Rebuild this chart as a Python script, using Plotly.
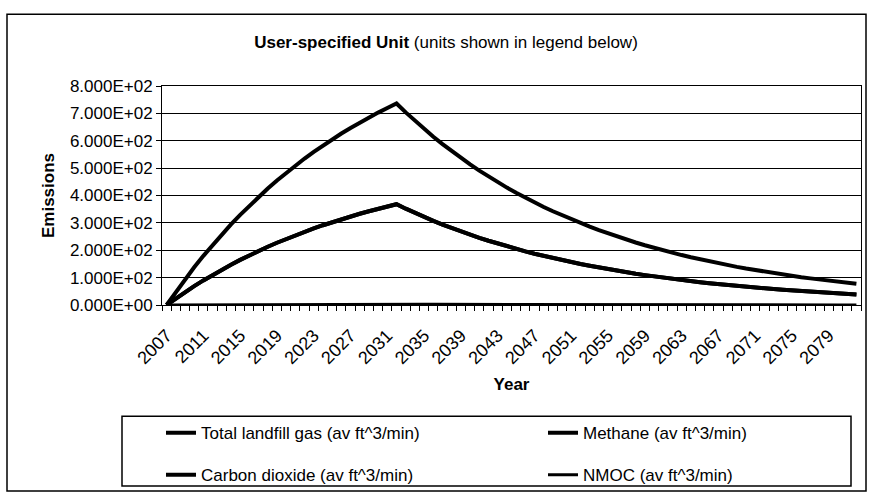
import plotly.graph_objects as go

years = list(range(2007, 2083))

total_landfill_gas = [
    0, 48.0, 93.8, 137.6, 179.6, 219.6, 257.9, 294.5, 329.5, 363.0,
    395.0, 425.6, 454.8, 482.7, 509.5, 535.0, 559.4, 582.8, 605.1, 626.4,
    646.8, 666.3, 685.0, 702.8, 719.8, 736.1,
    703.6, 672.6, 643.1, 614.8, 587.7, 561.8, 537.1, 513.5, 490.9, 469.3,
    448.6, 428.9, 410.0, 392.0, 374.7, 358.2, 342.5, 327.4, 313.0, 299.2,
    286.1, 273.5, 261.4, 249.9, 238.9, 228.4, 218.4, 208.8, 199.6, 190.8,
    182.4, 174.4, 166.7, 159.4, 152.4, 145.7, 139.2, 133.1, 127.3, 121.7,
    116.3, 111.2, 106.3, 101.6, 97.2, 92.9, 88.8, 84.9, 81.1, 77.6,
]

methane = [
    0, 24.0, 46.9, 68.8, 89.8, 109.8, 129.0, 147.3, 164.8, 181.5,
    197.5, 212.8, 227.4, 241.4, 254.8, 267.5, 279.7, 291.4, 302.6, 313.2,
    323.4, 333.2, 342.5, 351.4, 359.9, 368.1,
    351.8, 336.3, 321.6, 307.4, 293.9, 280.9, 268.6, 256.8, 245.5, 234.7,
    224.3, 214.5, 205.0, 196.0, 187.4, 179.1, 171.3, 163.7, 156.5, 149.6,
    143.1, 136.8, 130.7, 125.0, 119.5, 114.2, 109.2, 104.4, 99.8, 95.4,
    91.2, 87.2, 83.4, 79.7, 76.2, 72.9, 69.6, 66.6, 63.7, 60.9,
    58.2, 55.6, 53.2, 50.8, 48.6, 46.5, 44.4, 42.5, 40.6, 38.8,
]

carbon_dioxide = [
    0, 24.0, 46.9, 68.8, 89.8, 109.8, 129.0, 147.3, 164.8, 181.5,
    197.5, 212.8, 227.4, 241.4, 254.8, 267.5, 279.7, 291.4, 302.6, 313.2,
    323.4, 333.2, 342.5, 351.4, 359.9, 368.1,
    351.8, 336.3, 321.6, 307.4, 293.9, 280.9, 268.6, 256.8, 245.5, 234.7,
    224.3, 214.5, 205.0, 196.0, 187.4, 179.1, 171.3, 163.7, 156.5, 149.6,
    143.1, 136.8, 130.7, 125.0, 119.5, 114.2, 109.2, 104.4, 99.8, 95.4,
    91.2, 87.2, 83.4, 79.7, 76.2, 72.9, 69.6, 66.6, 63.7, 60.9,
    58.2, 55.6, 53.2, 50.8, 48.6, 46.5, 44.4, 42.5, 40.6, 38.8,
]

nmoc = [
    0, 0.19, 0.38, 0.55, 0.72, 0.88, 1.03, 1.18, 1.32, 1.45,
    1.58, 1.70, 1.82, 1.93, 2.04, 2.14, 2.24, 2.33, 2.42, 2.51,
    2.59, 2.67, 2.74, 2.81, 2.88, 2.94,
    2.81, 2.69, 2.57, 2.46, 2.35, 2.25, 2.15, 2.05, 1.96, 1.88,
    1.79, 1.72, 1.64, 1.57, 1.50, 1.43, 1.37, 1.31, 1.25, 1.20,
    1.14, 1.09, 1.05, 1.00, 0.96, 0.91, 0.87, 0.83, 0.80, 0.76,
    0.73, 0.70, 0.67, 0.64, 0.61, 0.58, 0.56, 0.53, 0.51, 0.49,
    0.47, 0.44, 0.43, 0.41, 0.39, 0.37, 0.36, 0.34, 0.32, 0.31,
]

series_names = [
    'Total landfill gas (av ft^3/min)',
    'Methane (av ft^3/min)',
    'Carbon dioxide (av ft^3/min)',
    'NMOC (av ft^3/min)',
]

y_tick_values = [0, 100, 200, 300, 400, 500, 600, 700, 800]
y_tick_labels = ['0.000E+00', '1.000E+02', '2.000E+02', '3.000E+02', '4.000E+02',
                 '5.000E+02', '6.000E+02', '7.000E+02', '8.000E+02']

font = 'Arial, Liberation Sans, sans-serif'

# plot area in pixels (the page is 871 x 500)
left, right, top, bottom = 162, 861, 86, 305.5
W, H = 871, 500
pw, ph = right - left, bottom - top


def px_x(x):
    return (x - left) / pw


def px_y(y):
    return (bottom - y) / ph


fig = go.Figure()
# first legend row takes the first two series, second row the other two
for i, (name, values, width) in enumerate(zip(series_names,
                                              [total_landfill_gas, methane, carbon_dioxide, nmoc],
                                              [4, 4, 4, 3])):
    fig.add_trace(go.Scatter(x=years, y=values, name=name, mode='lines',
                             legend='legend' if i < 2 else 'legend2',
                             line=dict(color='black', width=width)))

# x just left of the plot area so the legend may use the full width
legend_style = dict(orientation='h', xanchor='left', yanchor='top',
                    borderwidth=0, bgcolor='rgba(0,0,0,0)',
                    entrywidth=337, entrywidthmode='pixels',
                    font=dict(size=17), traceorder='normal')

fig.update_layout(
    width=W, height=H,
    margin=dict(l=left, r=W - right, t=top, b=H - bottom, autoexpand=False),
    paper_bgcolor='white', plot_bgcolor='white',
    font=dict(family=font, color='black', size=17),
    title=dict(text='<b>User-specified Unit</b> (units shown in legend below)',
               x=446 / W, xanchor='center',
               y=1 - 42 / H, yanchor='middle', font=dict(size=17)),
    showlegend=True,
    legend=dict(x=px_x(161), y=px_y(416), **legend_style),
    legend2=dict(x=px_x(161), y=px_y(458), **legend_style),
)

fig.update_xaxes(
    range=[2006.5, 2082.5], tickmode='linear', tick0=2007, dtick=4, tickangle=-45,
    ticks='', ticklabelstandoff=12, showgrid=False, zeroline=False,
    showline=True, linecolor='black', linewidth=1, mirror=True,
    tickfont=dict(size=18),
    minor=dict(ticks='outside', tick0=2006.5, dtick=1, ticklen=5, tickcolor='black', showgrid=False),
    title=dict(text='<b>Year</b>', font=dict(size=17), standoff=10),
)
fig.update_yaxes(
    range=[0, 800], tickmode='array', tickvals=y_tick_values, ticktext=y_tick_labels,
    ticks='outside', ticklen=5, tickcolor='black',
    showgrid=True, gridcolor='black', gridwidth=1, zeroline=False,
    showline=True, linecolor='black', linewidth=1, mirror=True,
    tickfont=dict(size=17),
    title=dict(text='<b>Emissions</b>', font=dict(size=17), standoff=10),
)

# border round the whole chart area
fig.add_shape(type='rect', xref='paper', yref='paper',
              x0=px_x(7), x1=px_x(866), y0=px_y(492), y1=px_y(14),
              line=dict(color='black', width=1.5), layer='below')
# legend frame
fig.add_shape(type='rect', xref='paper', yref='paper',
              x0=px_x(122), x1=px_x(851), y0=px_y(487), y1=px_y(417),
              line=dict(color='black', width=1.5), layer='below')

fig.write_html('out.html', config={'displayModeBar': False},
               post_script="document.body.style.margin = '0';")
